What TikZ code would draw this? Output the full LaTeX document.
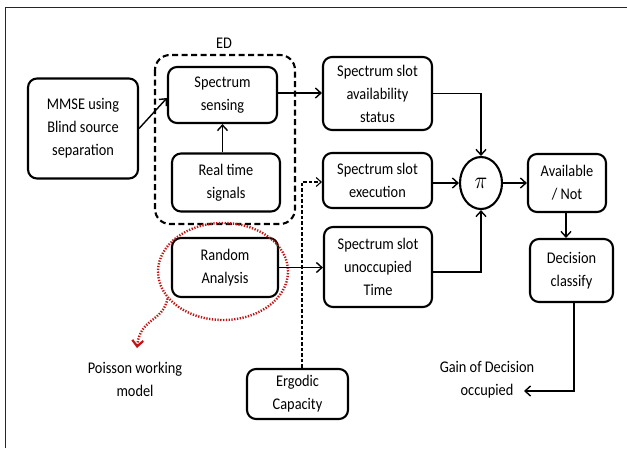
\documentclass[tikz,border=0pt]{standalone}
\usepackage{fontspec}
\setmainfont{Carlito}[FakeStretch=0.88]
\usetikzlibrary{arrows.meta,shapes.geometric,calc}

\definecolor{dotred}{RGB}{192,20,20}

\tikzset{
  blk/.style={draw, line width=2.1pt, rounded corners=9pt, align=center,
    inner sep=0pt, font=\fontsize{16.3}{23}\selectfont},
  lbl/.style={align=center, inner sep=0pt, font=\fontsize{16.3}{23}\selectfont},
  conn/.style={line width=1.4pt, -{Straight Barb[length=5.5pt,width=10pt,line width=1.4pt]}},
  dconn/.style={line width=1.1pt, dash pattern=on 3.5pt off 2pt,
    -{Straight Barb[length=5pt,width=9pt,line width=1.1pt]}},
}

\begin{document}
\begin{tikzpicture}[x=1pt,y=-1pt]
\useasboundingbox (0,0) rectangle (627,448);

% page frame
\draw[line width=1pt, black!85] (5,448) -- (5,7) -- (627,7);

% blocks
\node[blk, minimum width=110pt, minimum height=100pt] (mmse) at (83,128.5) {MMSE using\\Blind source\\separation};
\node[blk, minimum width=109pt, minimum height=56pt] (sens) at (222.5,95) {Spectrum\\sensing};
\node[blk, minimum width=108pt, minimum height=58pt] (real) at (226,182.5) {Real time\\signals};
\node[blk, minimum width=109pt, minimum height=73pt] (avail) at (377.5,93.5) {Spectrum slot\\availability\\status};
\node[blk, minimum width=109pt, minimum height=55pt] (exec) at (377.5,180.5) {Spectrum slot\\execution};
\node[blk, minimum width=108pt, minimum height=80pt] (unocc) at (378,267) {Spectrum slot\\unoccupied\\Time};
\node[blk, minimum width=106pt, minimum height=59pt] (rand) at (225,267.5) {Random\\Analysis};
\node[blk, minimum width=101pt, minimum height=50pt] (ergo) at (297.5,394) {Ergodic\\Capacity};
\node[blk, minimum width=78pt, minimum height=58pt] (avnot) at (567,183) {Available\\/ Not};
\node[blk, minimum width=83pt, minimum height=63pt] (dec) at (571.5,270.5) {Decision\\classify};
\node[draw, line width=2.1pt, ellipse, minimum width=42pt, minimum height=52pt, inner sep=0pt]
  (pi) at (481,183) {\scalebox{2.1}[2.4]{$\pi$}};

% energy detection group
\draw[line width=2.1pt, dash pattern=on 6pt off 3.5pt, rounded corners=15pt]
  (155,55) rectangle (295,224);
\node[lbl] (ed) at (224,43) {ED};

% Poisson model highlight
\node[draw=dotred, line width=2.4pt, dash pattern=on 1.3pt off 1.5pt, ellipse,
  minimum width=130pt, minimum height=97pt, inner sep=0pt] (poi) at (223,271.5) {};
\node[lbl] (poisson) at (135,379.5) {Poisson working\\model};
\coordinate (poitip) at (137,348);
\draw[dotred, line width=2.4pt, dash pattern=on 1.3pt off 1.5pt,
  -{Straight Barb[length=6pt,width=11pt,line width=2.2pt]}]
  (poi.206) .. controls (163,322) and (140,318) .. (poitip);

% output label
\node[lbl] (gain) at (487,379.5) {Gain of Decision\\occupied};
\coordinate (gaintip) at (524,391);

% connectors
\draw[conn] (mmse.east) -- ([yshift=-3pt]sens.west);
\draw[conn] (sens.south |- real.north) -- (sens.south);
\draw[conn] ([yshift=2pt]sens.east) -- ([yshift=2pt]sens.east -| avail.west);
\draw[conn] (avail.east) -| (pi.north);
\draw[conn] (exec.east |- pi.west) -- (pi.west);
\draw[conn] ([yshift=-5pt]unocc.east) -| (pi.south);
\draw[conn] (pi.east) -- (pi.east -| avnot.west);
\draw[conn] ([xshift=-1pt]avnot.south) -- ([xshift=-1pt]avnot.south |- dec.north);
\draw[conn] ([xshift=2.5pt]dec.south) |- (gaintip);
\draw[conn] (rand.east) -- (rand.east -| unocc.west);
\draw[dconn] ([xshift=4.5pt]ergo.north) |- ([yshift=-1.5pt]exec.west);

\end{tikzpicture}
\end{document}
